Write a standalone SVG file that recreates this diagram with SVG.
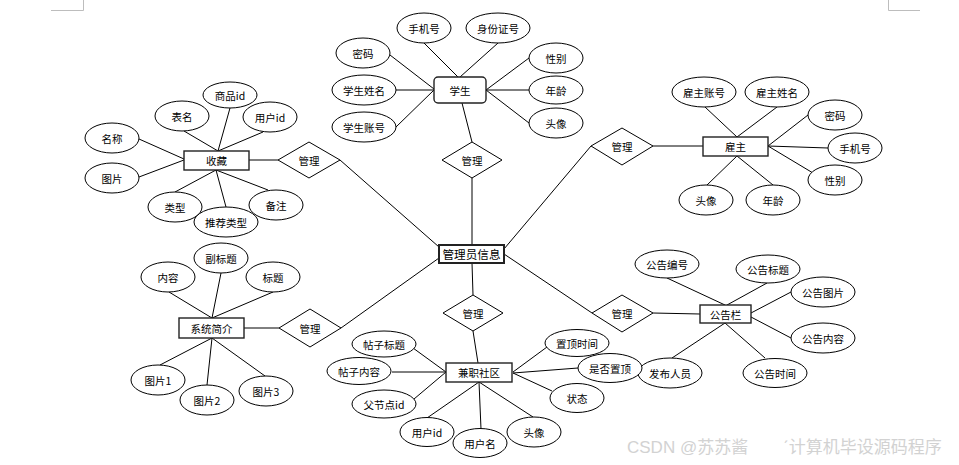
<svg xmlns="http://www.w3.org/2000/svg" width="959" height="465" viewBox="0 0 959 465">
<style>
.e{fill:#fff;stroke:#000;stroke-width:1}
.r{fill:#fff;stroke:#222;stroke-width:1.4}
.d{fill:#fff;stroke:#000;stroke-width:1}
.c line{stroke:#000;stroke-width:1}
text{font-family:"Noto Sans CJK SC","Noto Sans",sans-serif;font-size:10.5px;text-anchor:middle;dominant-baseline:central;fill:#000}
.wm{font-size:17px;fill:#d2d2d2;text-anchor:start;font-family:"Liberation Sans","Noto Sans CJK SC",sans-serif}
.mk{stroke:#bdbdbd;stroke-width:1;fill:none}
</style>
<rect width="959" height="465" fill="#fff"/>
<path class="mk" d="M51,10.5H83.5V0M888.5,0V10.5H920"/>
<g id="connectors" class="c">
<line x1="424" y1="43" x2="458" y2="77"/>
<line x1="498" y1="43" x2="460" y2="77"/>
<line x1="390" y1="55" x2="434" y2="89"/>
<line x1="396" y1="90" x2="434" y2="90"/>
<line x1="396" y1="127" x2="434" y2="90"/>
<line x1="529" y1="58" x2="486" y2="90"/>
<line x1="529" y1="90" x2="486" y2="90"/>
<line x1="529" y1="123" x2="486" y2="90"/>
<line x1="462" y1="103" x2="472" y2="142"/>
<line x1="472" y1="178" x2="472" y2="245"/>
<line x1="472" y1="263" x2="473" y2="295"/>
<line x1="473" y1="331" x2="478" y2="363"/>
<line x1="340" y1="160" x2="439" y2="247"/>
<line x1="249" y1="160" x2="278" y2="160"/>
<line x1="504" y1="249" x2="591" y2="146"/>
<line x1="653" y1="146" x2="703" y2="146"/>
<line x1="504" y1="254" x2="592" y2="313"/>
<line x1="653" y1="313" x2="700" y2="314"/>
<line x1="439" y1="258" x2="341" y2="328"/>
<line x1="244" y1="328" x2="279" y2="328"/>
<line x1="230" y1="108" x2="218" y2="151"/>
<line x1="184" y1="131" x2="218" y2="151"/>
<line x1="263" y1="132" x2="218" y2="151"/>
<line x1="139" y1="139" x2="184" y2="159"/>
<line x1="139" y1="177" x2="184" y2="160"/>
<line x1="175" y1="192" x2="216" y2="170"/>
<line x1="226" y1="207" x2="216" y2="170"/>
<line x1="268" y1="190" x2="216" y2="170"/>
<line x1="221" y1="273" x2="212" y2="318"/>
<line x1="169" y1="292" x2="212" y2="318"/>
<line x1="273" y1="292" x2="212" y2="318"/>
<line x1="160" y1="365" x2="212" y2="338"/>
<line x1="207" y1="385" x2="212" y2="338"/>
<line x1="265" y1="376" x2="212" y2="338"/>
<line x1="705" y1="107" x2="737" y2="137"/>
<line x1="777" y1="107" x2="737" y2="137"/>
<line x1="808" y1="115" x2="768" y2="146"/>
<line x1="828" y1="148" x2="768" y2="146"/>
<line x1="813" y1="173" x2="768" y2="146"/>
<line x1="707" y1="185" x2="737" y2="156"/>
<line x1="773" y1="185" x2="737" y2="156"/>
<line x1="667" y1="278" x2="725" y2="305"/>
<line x1="767" y1="283" x2="727" y2="305"/>
<line x1="791" y1="292" x2="751" y2="313"/>
<line x1="791" y1="338" x2="751" y2="317"/>
<line x1="765" y1="358" x2="725" y2="323"/>
<line x1="672" y1="358" x2="725" y2="323"/>
<line x1="413" y1="348" x2="446" y2="372"/>
<line x1="392" y1="372" x2="446" y2="372"/>
<line x1="414" y1="399" x2="446" y2="372"/>
<line x1="427" y1="418" x2="479" y2="382"/>
<line x1="481" y1="429" x2="479" y2="382"/>
<line x1="533" y1="417" x2="479" y2="382"/>
<line x1="547" y1="347" x2="513" y2="372"/>
<line x1="578" y1="368" x2="513" y2="373"/>
<line x1="552" y1="391" x2="513" y2="373"/>
</g>
<g id="admin"><rect class="r" x="439" y="245" width="65" height="18" style="stroke-width:2"/><text x="471.5" y="254" style="font-size:11.6px">管理员信息</text></g>
<g id="student"><rect class="r" x="434" y="77" width="52" height="26" rx="4"/><text x="460" y="90">学生</text></g>
<g id="s-phone"><ellipse class="e" cx="424" cy="28" rx="27" ry="15"/><text x="424" y="28">手机号</text></g>
<g id="s-idcard"><ellipse class="e" cx="498" cy="28" rx="32" ry="15"/><text x="498" y="28">身份证号</text></g>
<g id="s-pwd"><ellipse class="e" cx="363" cy="53" rx="27" ry="15"/><text x="363" y="53">密码</text></g>
<g id="s-name"><ellipse class="e" cx="364" cy="90" rx="32" ry="15"/><text x="364" y="90">学生姓名</text></g>
<g id="s-acct"><ellipse class="e" cx="364" cy="127" rx="32" ry="15"/><text x="364" y="127">学生账号</text></g>
<g id="s-sex"><ellipse class="e" cx="556" cy="58" rx="27" ry="15"/><text x="556" y="58">性别</text></g>
<g id="s-age"><ellipse class="e" cx="556" cy="90" rx="27" ry="14"/><text x="556" y="90">年龄</text></g>
<g id="s-avatar"><ellipse class="e" cx="556" cy="123" rx="27" ry="15"/><text x="556" y="123">头像</text></g>
<g id="rel-student"><polygon class="d" points="442,160 472,142 502,160 472,178"/><text x="472" y="160">管理</text></g>
<g id="rel-community"><polygon class="d" points="443,313 473,295 503,313 473,331"/><text x="473" y="313">管理</text></g>
<g id="rel-fav"><polygon class="d" points="278,160 309,142 340,160 309,178"/><text x="309" y="160">管理</text></g>
<g id="rel-intro"><polygon class="d" points="279,328 310,309 341,328 310,347"/><text x="310" y="328">管理</text></g>
<g id="rel-employer"><polygon class="d" points="591,146 622,128 653,146 622,165"/><text x="622" y="146">管理</text></g>
<g id="rel-notice"><polygon class="d" points="592,313 622,295 653,313 622,332"/><text x="622" y="313">管理</text></g>
<g id="fav"><rect class="r" x="184" y="151" width="65" height="19"/><text x="216.5" y="160.5">收藏</text></g>
<g id="f-goods"><ellipse class="e" cx="230" cy="95" rx="27" ry="13"/><text x="230" y="95">商品id</text></g>
<g id="f-table"><ellipse class="e" cx="182" cy="116" rx="27" ry="15"/><text x="182" y="116">表名</text></g>
<g id="f-user"><ellipse class="e" cx="270" cy="117" rx="27" ry="15"/><text x="270" y="117">用户id</text></g>
<g id="f-name"><ellipse class="e" cx="112" cy="138" rx="27" ry="15"/><text x="112" y="138">名称</text></g>
<g id="f-pic"><ellipse class="e" cx="112" cy="178" rx="27" ry="15"/><text x="112" y="178">图片</text></g>
<g id="f-type"><ellipse class="e" cx="175" cy="207" rx="27" ry="15"/><text x="175" y="207">类型</text></g>
<g id="f-rectype"><ellipse class="e" cx="226" cy="222" rx="32" ry="15"/><text x="226" y="222">推荐类型</text></g>
<g id="f-note"><ellipse class="e" cx="276" cy="205" rx="27" ry="15"/><text x="276" y="205">备注</text></g>
<g id="intro"><rect class="r" x="179" y="318" width="65" height="20"/><text x="211.5" y="328">系统简介</text></g>
<g id="i-sub"><ellipse class="e" cx="221" cy="258" rx="27" ry="15"/><text x="221" y="258">副标题</text></g>
<g id="i-content"><ellipse class="e" cx="168" cy="277" rx="27" ry="15"/><text x="168" y="277">内容</text></g>
<g id="i-title"><ellipse class="e" cx="273" cy="277" rx="27" ry="15"/><text x="273" y="277">标题</text></g>
<g id="i-pic1"><ellipse class="e" cx="158" cy="380" rx="27" ry="15"/><text x="158" y="380">图片1</text></g>
<g id="i-pic2"><ellipse class="e" cx="207" cy="400" rx="27" ry="15"/><text x="207" y="400">图片2</text></g>
<g id="i-pic3"><ellipse class="e" cx="266" cy="391" rx="27" ry="15"/><text x="266" y="391">图片3</text></g>
<g id="employer"><rect class="r" x="703" y="137" width="65" height="19"/><text x="735.5" y="146.5">雇主</text></g>
<g id="e-acct"><ellipse class="e" cx="704" cy="92" rx="32" ry="15"/><text x="704" y="92">雇主账号</text></g>
<g id="e-name"><ellipse class="e" cx="777" cy="92" rx="32" ry="15"/><text x="777" y="92">雇主姓名</text></g>
<g id="e-pwd"><ellipse class="e" cx="835" cy="115" rx="27" ry="15"/><text x="835" y="115">密码</text></g>
<g id="e-phone"><ellipse class="e" cx="855" cy="148" rx="27" ry="15"/><text x="855" y="148">手机号</text></g>
<g id="e-sex"><ellipse class="e" cx="835" cy="180" rx="27" ry="15"/><text x="835" y="180">性别</text></g>
<g id="e-avatar"><ellipse class="e" cx="706" cy="200" rx="27" ry="15"/><text x="706" y="200">头像</text></g>
<g id="e-age"><ellipse class="e" cx="773" cy="200" rx="27" ry="15"/><text x="773" y="200">年龄</text></g>
<g id="notice"><rect class="r" x="700" y="305" width="51" height="18"/><text x="725.5" y="314">公告栏</text></g>
<g id="n-no"><ellipse class="e" cx="667" cy="264" rx="32" ry="14"/><text x="667" y="264">公告编号</text></g>
<g id="n-title"><ellipse class="e" cx="768" cy="269" rx="32" ry="14"/><text x="768" y="269">公告标题</text></g>
<g id="n-pic"><ellipse class="e" cx="823" cy="292" rx="32" ry="15"/><text x="823" y="292">公告图片</text></g>
<g id="n-content"><ellipse class="e" cx="823" cy="338" rx="32" ry="15"/><text x="823" y="338">公告内容</text></g>
<g id="n-time"><ellipse class="e" cx="775" cy="373" rx="32" ry="14.5"/><text x="775" y="373">公告时间</text></g>
<g id="n-pub"><ellipse class="e" cx="670" cy="373" rx="32" ry="15"/><text x="670" y="373">发布人员</text></g>
<g id="community"><rect class="r" x="446" y="363" width="66" height="19"/><text x="479" y="372.5">兼职社区</text></g>
<g id="c-title"><ellipse class="e" cx="384" cy="344" rx="32" ry="13"/><text x="384" y="344">帖子标题</text></g>
<g id="c-content"><ellipse class="e" cx="359" cy="371" rx="32" ry="13.5"/><text x="359" y="371">帖子内容</text></g>
<g id="c-parent"><ellipse class="e" cx="384" cy="404" rx="32" ry="14"/><text x="384" y="404">父节点id</text></g>
<g id="c-uid"><ellipse class="e" cx="427" cy="432" rx="27" ry="14.5"/><text x="427" y="432">用户id</text></g>
<g id="c-uname"><ellipse class="e" cx="480" cy="443" rx="27" ry="14.5"/><text x="480" y="443">用户名</text></g>
<g id="c-avatar"><ellipse class="e" cx="534" cy="432" rx="27" ry="15"/><text x="534" y="432">头像</text></g>
<g id="c-toptime"><ellipse class="e" cx="577" cy="343" rx="32" ry="13.5"/><text x="577" y="343">置顶时间</text></g>
<g id="c-istop"><ellipse class="e" cx="610" cy="368" rx="32" ry="14.5"/><text x="610" y="368">是否置顶</text></g>
<g id="c-status"><ellipse class="e" cx="577" cy="398" rx="27" ry="14.5"/><text x="577" y="398">状态</text></g>
<text class="wm" x="627" y="447">CSDN @苏苏酱</text>
<text class="wm" x="783" y="447">ˊ计算机毕设源码程序</text>
</svg>
